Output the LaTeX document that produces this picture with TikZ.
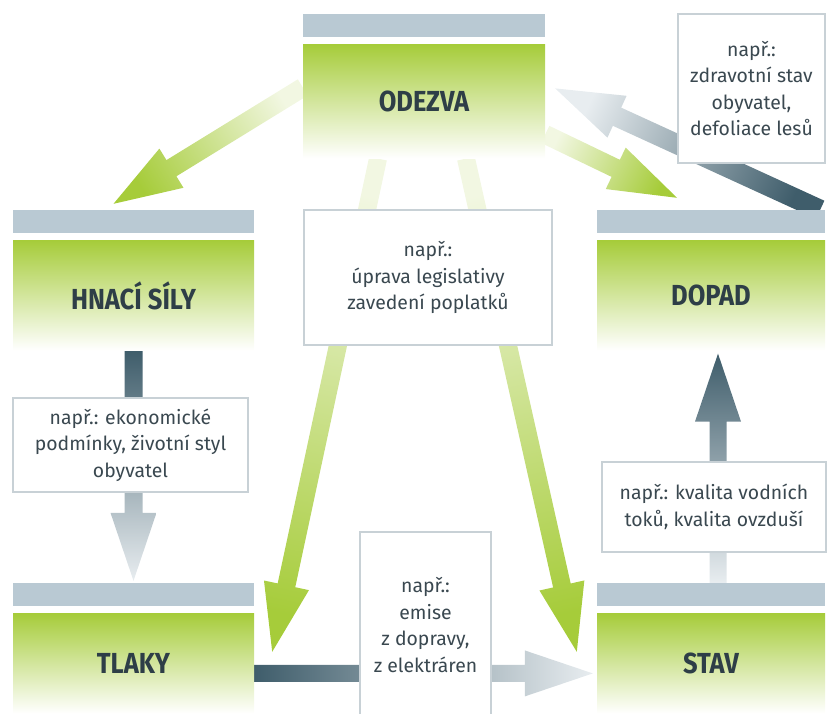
\documentclass[tikz,border=0pt]{standalone}
\usepackage{fontspec}
\setmainfont{Fira Sans}
\newfontfamily\headfont[FakeStretch=0.88]{Fira Sans}
\usepackage{tikz}
\usetikzlibrary{calc,backgrounds,positioning}
\definecolor{pruhgray}{RGB}{185,201,211}
\definecolor{zelena}{RGB}{166,204,58}
\definecolor{zelenasv}{RGB}{242,247,226}
\definecolor{tmava}{RGB}{63,93,107}
\definecolor{svetla}{RGB}{232,237,240}
\definecolor{textdark}{RGB}{46,62,71}
\definecolor{textgray}{RGB}{58,72,80}
\definecolor{ramgray}{RGB}{200,209,214}
\tikzset{
    pruh/.style={rectangle,fill=pruhgray,inner sep=0pt,minimum height=23pt},
    blok/.style={rectangle,top color=zelena,bottom color=white,inner sep=0pt,
        node font=\headfont\bfseries\fontsize{29}{30}\selectfont,text=textdark},
    popis/.style={rectangle,draw=ramgray,line width=1.3pt,fill=white,inner sep=0pt,
        align=center,node font=\fontsize{19.4}{26.5}\selectfont,text=textgray},
    zelenasipka/.style={bottom color=zelenasv,top color=zelena},
    tmavasipka/.style={bottom color=tmava,top color=svetla},
    svetlasipka/.style={bottom color=svetla,top color=tmava},
}
% block arrow from #2 to the tip #3, half shaft width #4
\newcommand{\sipka}[4][]{%
    \shade[#1] ($(#2)!#4!90:(#3)$)
        -- ($(#3)!68pt!(#2)!#4!90:(#3)$)
        -- ($(#3)!68pt!(#2)!23pt!90:(#3)$)
        -- (#3)
        -- ($(#3)!68pt!(#2)!23pt!-90:(#3)$)
        -- ($(#3)!68pt!(#2)!#4!-90:(#3)$)
        -- ($(#2)!#4!-90:(#3)$) -- cycle;}

\begin{document}
\begin{tikzpicture}[x=1pt,y=-1pt]
    \useasboundingbox (0,0) rectangle (827,713);
    \clip (0,0) rectangle (827,713);
    % bloky
    \node [pruh,minimum width=242pt] (odezvabar) at (424,25.5) {};
    \node [blok,below=7pt of odezvabar,minimum width=242pt,minimum height=114pt] (odezva) {ODEZVA};
    \node [pruh,minimum width=241pt] (hnacibar) at (133.5,221.5) {};
    \node [blok,below=7pt of hnacibar,minimum width=241pt,minimum height=110pt] (hnaci) {HNACÍ SÍLY};
    \node [pruh,minimum width=228pt] (dopadbar) at (711,221.5) {};
    \node [blok,below=7pt of dopadbar,minimum width=228pt,minimum height=110pt] (dopad) {DOPAD};
    \node [pruh,minimum width=241pt] (tlakybar) at (133.5,594.5) {};
    \node [blok,below=7pt of tlakybar,minimum width=241pt,minimum height=100pt] (tlaky) {TLAKY};
    \node [pruh,minimum width=228pt] (stavbar) at (711,594.5) {};
    \node [blok,below=7pt of stavbar,minimum width=228pt,minimum height=100pt] (stav) {STAV};
    % popisky
    \node [popis,minimum width=248pt,minimum height=135pt] (lodezva) at (428,277.5)
        {např.:\\úprava legislativy\\zavedení poplatků};
    \node [popis,minimum width=235pt,minimum height=94pt] (lhnaci) at (130.5,445)
        {např.: ekonomické\\podmínky, životní styl\\obyvatel};
    \node [popis,minimum width=147pt,minimum height=149pt] (ldopad) at (751.5,88.5)
        {např.:\\zdravotní stav\\obyvatel,\\defoliace lesů};
    \node [popis,minimum width=131pt,minimum height=186pt] (ltlaky) at (425.5,625)
        {např.:\\emise\\z dopravy,\\z elektráren};
    \node [popis,minimum width=224pt,minimum height=90pt] (lstav) at (714,507)
        {např.: kvalita vodních\\toků, kvalita ovzduší};
    % sipky
    \begin{scope}[on background layer]
        \coordinate (r1) at ($(odezva.west)+(0,-14)$);
        \coordinate (d1) at ($(hnacibar.north)+(-20,-6)$);
        \coordinate (r2) at ($(odezva.east)+(0,33)$);
        \coordinate (d2) at ($(dopadbar.north)+(-34,-12)$);
        \coordinate (d3) at ($(dopadbar.north east)+(-5,0)$);
        \coordinate (r3) at ($(odezva.east)+(10,-13)$);
        \coordinate (r4) at ($(odezva.south)+(-46,0)$);
        \coordinate (t1) at ($(tlakybar.north east)+(18,69)$);
        \coordinate (r5) at ($(odezva.south)+(42,0)$);
        \coordinate (s1) at ($(stavbar.north west)+(-20,69)$);
        \coordinate (t2) at ($(tlakybar.north)+(0,-2)$);
        \coordinate (s2) at ($(stavbar.north)+(7,0)$);
        \coordinate (d4) at ($(dopad.south)+(7,3)$);
        \coordinate (t3) at ($(tlaky.east)+(0,10)$);
        \coordinate (s3) at ($(stav.west)+(-4,10)$);
        \sipka[zelenasipka,shading angle=121.9]{r1}{d1}{9.5pt}
        \sipka[zelenasipka,shading angle=-116.2]{r2}{d2}{9.5pt}
        \sipka[tmavasipka,shading angle=65.1]{d3}{r3}{10pt}
        \sipka[zelenasipka,shading angle=167.9]{r4}{t1}{9pt}
        \sipka[zelenasipka,shading angle=192.6]{r5}{s1}{9pt}
        \sipka[tmavasipka,shading angle=180]{hnaci.south}{t2}{9pt}
        \sipka[svetlasipka,shading angle=0]{s2}{d4}{8.5pt}
        \sipka[tmavasipka,shading angle=-90]{t3}{s3}{8.5pt}
    \end{scope}
\end{tikzpicture}
\end{document}
